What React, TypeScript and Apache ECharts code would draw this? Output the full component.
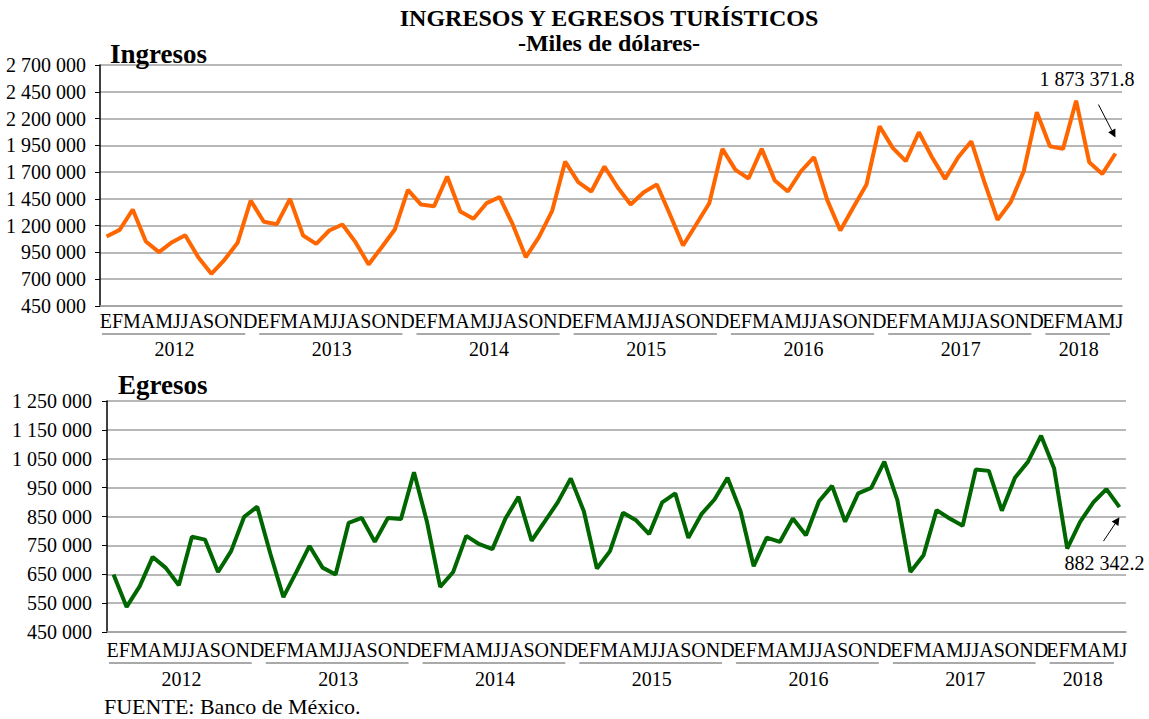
import React, { useEffect, useRef } from "react";
import * as echarts from "echarts";

const MONTH_LETTERS = ["E", "F", "M", "A", "M", "J", "J", "A", "S", "O", "N", "D"];
const YEARS = ["2012", "2013", "2014", "2015", "2016", "2017", "2018"];
const MONTHS_IN_LAST_YEAR = 6;

const CATEGORIES: string[] = [];
YEARS.forEach((y, yi) => {
  const n = yi === YEARS.length - 1 ? MONTHS_IN_LAST_YEAR : 12;
  for (let m = 0; m < n; m++) CATEGORIES.push(y + "-" + MONTH_LETTERS[m]);
});

const INGRESOS = [
  1099000, 1161000, 1351000, 1052000, 953000, 1046000, 1111000, 906000, 751000, 881000, 1040000, 1435000,
  1236000, 1214000, 1450000, 1108000, 1030000, 1155000, 1211000, 1046000, 838000, 999000, 1164000, 1534000,
  1397000, 1382000, 1659000, 1332000, 1264000, 1410000, 1466000, 1211000, 906000, 1093000, 1335000, 1798000,
  1606000, 1519000, 1752000, 1559000, 1397000, 1512000, 1584000, 1304000, 1015000, 1211000, 1410000, 1917000,
  1721000, 1640000, 1917000, 1621000, 1519000, 1708000, 1839000, 1441000, 1155000, 1372000, 1584000, 2128000,
  1926000, 1802000, 2072000, 1839000, 1637000, 1839000, 1988000, 1606000, 1254000, 1419000, 1708000, 2259000,
  1941000, 1917000, 2367000, 1792000, 1683000, 1873371.8,
];

const EGRESOS = [
  649000, 537000, 608000, 710000, 672000, 612000, 780000, 770000, 658000, 730000, 849000, 884000,
  722000, 571000, 658000, 748000, 673000, 649000, 828000, 845000, 762000, 845000, 841000, 1003000,
  830000, 606000, 658000, 783000, 754000, 737000, 843000, 918000, 766000, 832000, 899000, 982000,
  868000, 670000, 730000, 863000, 837000, 789000, 899000, 930000, 776000, 858000, 909000, 984000,
  868000, 678000, 777000, 762000, 843000, 785000, 903000, 956000, 832000, 930000, 949000, 1040000,
  907000, 658000, 716000, 872000, 843000, 818000, 1013000, 1008000, 870000, 984000, 1040000, 1130000,
  1016000, 739000, 832000, 899000, 945000, 882342.2,
];

const ING_AXIS = { min: 450000, max: 2700000, interval: 250000 };
const EGR_AXIS = { min: 450000, max: 1250000, interval: 100000 };

const MAIN_TITLE = "INGRESOS Y EGRESOS TURÍSTICOS";
const SUB_TITLE = "-Miles de dólares-";
const LAST_ING_LABEL = "1 873 371.8";
const LAST_EGR_LABEL = "882 342.2";

const FONT = "Liberation Serif";
const GRID_COLOR = "#a0a0a0";

function fmt(n: number): string {
  return String(Math.round(n)).replace(/\B(?=(\d{3})+(?!\d))/g, " ");
}

export default function App() {
  const ref = useRef<HTMLDivElement>(null);

  useEffect(() => {
    if (!ref.current) return;
    const chart = echarts.init(ref.current, undefined, { renderer: "svg" });

    const xAxisBase = (gridIndex: number) => ({
      type: "category" as const,
      gridIndex,
      data: CATEGORIES,
      boundaryGap: true,
      axisLine: { show: true, lineStyle: { color: GRID_COLOR, width: 1.5 } },
      axisTick: { show: false },
      axisLabel: { show: false },
      splitLine: { show: false },
    });

    const yAxisBase = (gridIndex: number, ax: { min: number; max: number; interval: number }, margin: number) => ({
      type: "value" as const,
      gridIndex,
      min: ax.min,
      max: ax.max,
      interval: ax.interval,
      axisLine: { show: true, lineStyle: { color: "#000", width: 1.5 } },
      axisTick: { show: true, length: 5, lineStyle: { color: "#000", width: 1 } },
      axisLabel: {
        margin,
        fontFamily: FONT,
        fontSize: 20,
        color: "#000",
        formatter: (v: number) => fmt(v),
      },
      splitLine: { show: true, lineStyle: { color: GRID_COLOR, width: 1.5 } },
    });

    const titleStyle = (size: number, bold: boolean, lineHeight?: number) => ({
      fontFamily: FONT,
      fontSize: size,
      fontWeight: bold ? "bold" : "normal",
      color: "#000",
      lineHeight: lineHeight ?? size,
    });

    chart.setOption({
      animation: false,
      backgroundColor: "#fff",
      title: [
        {
          text: MAIN_TITLE + "\n" + SUB_TITLE,
          left: 609,
          textAlign: "center",
          top: 5,
          padding: 0,
          textStyle: { ...titleStyle(24, true, 25), align: "center" },
        },
        { text: "Ingresos", left: 110, top: 40, padding: 0, textStyle: titleStyle(27, true) },
        { text: "Egresos", left: 118, top: 371, padding: 0, textStyle: titleStyle(27, true) },
        { text: "FUENTE: Banco de México.", left: 104, top: 695, padding: 0, textStyle: titleStyle(22, false) },
      ],
      grid: [
        { left: 100, right: 27, top: 65, height: 241, containLabel: false },
        { left: 107, right: 23, top: 401, height: 231, containLabel: false },
      ],
      xAxis: [xAxisBase(0), xAxisBase(1)],
      yAxis: [yAxisBase(0, ING_AXIS, 14), yAxisBase(1, EGR_AXIS, 15)],
      series: [
        {
          type: "line",
          name: "Ingresos",
          xAxisIndex: 0,
          yAxisIndex: 0,
          data: INGRESOS,
          showSymbol: false,
          symbol: "none",
          lineStyle: { color: "#ff6600", width: 4 },
          itemStyle: { color: "#ff6600" },
        },
        {
          type: "line",
          name: "Egresos",
          xAxisIndex: 1,
          yAxisIndex: 1,
          data: EGRESOS,
          showSymbol: false,
          symbol: "none",
          lineStyle: { color: "#006600", width: 4 },
          itemStyle: { color: "#006600" },
        },
      ],
    });

    const graphics: any[] = [];
    const textFont = "20px " + FONT;

    // Month letters, underline and year label per year, positioned by the axes
    const addYears = (gridIdx: number, ax: { min: number }, monthOff: number, lineOff: number, textOff: number) => {
      let start = 0;
      const bottom = chart.convertToPixel({ yAxisIndex: gridIdx }, ax.min) as number;
      const p0 = chart.convertToPixel({ xAxisIndex: gridIdx }, 0) as number;
      const p1 = chart.convertToPixel({ xAxisIndex: gridIdx }, 1) as number;
      const band = p1 - p0;
      YEARS.forEach((y, yi) => {
        const n = yi === YEARS.length - 1 ? MONTHS_IN_LAST_YEAR : 12;
        const end = start + n - 1;
        const xs = (chart.convertToPixel({ xAxisIndex: gridIdx }, start) as number) - band / 2;
        const xe = (chart.convertToPixel({ xAxisIndex: gridIdx }, end) as number) + band / 2;
        const cx = (xs + xe) / 2;
        graphics.push({
          type: "text",
          x: cx,
          y: bottom + monthOff,
          style: {
            text: MONTH_LETTERS.slice(0, n).join(""),
            font: textFont,
            fill: "#000",
            textAlign: "center",
            textVerticalAlign: "middle",
          },
          silent: true,
        });
        graphics.push({
          type: "line",
          shape: { x1: xs + 2, y1: bottom + lineOff, x2: xe - 12, y2: bottom + lineOff },
          style: { stroke: "#555", lineWidth: 1.2 },
          silent: true,
        });
        graphics.push({
          type: "text",
          x: cx - 4,
          y: bottom + textOff,
          style: {
            text: y,
            font: textFont,
            fill: "#000",
            textAlign: "center",
            textVerticalAlign: "middle",
          },
          silent: true,
        });
        start = end + 1;
      });
    };
    addYears(0, ING_AXIS, 15, 28, 43);
    addYears(1, EGR_AXIS, 18, 31, 47);

    // Last-value annotations
    const lastI = INGRESOS.length - 1;
    const pI = chart.convertToPixel({ seriesIndex: 0 }, [lastI, INGRESOS[lastI]]) as number[];
    const pE = chart.convertToPixel({ seriesIndex: 1 }, [lastI, EGRESOS[lastI]]) as number[];

    const arrow = (x1: number, y1: number, x2: number, y2: number) => {
      const ang = Math.atan2(y2 - y1, x2 - x1);
      const L = 8, W = 4;
      const bx = x2 - L * Math.cos(ang), by = y2 - L * Math.sin(ang);
      const nx = -Math.sin(ang), ny = Math.cos(ang);
      graphics.push({
        type: "line",
        shape: { x1, y1, x2: bx, y2: by },
        style: { stroke: "#000", lineWidth: 1 },
        silent: true,
      });
      graphics.push({
        type: "polygon",
        shape: { points: [[x2, y2], [bx + nx * W, by + ny * W], [bx - nx * W, by - ny * W]] },
        style: { fill: "#000" },
        silent: true,
      });
    };

    graphics.push({
      type: "text",
      x: pI[0] + 19,
      y: pI[1] - 75,
      style: { text: LAST_ING_LABEL, font: textFont, fill: "#000", textAlign: "right", textVerticalAlign: "middle" },
      silent: true,
    });
    arrow(pI[0] - 17, pI[1] - 49, pI[0], pI[1] - 16);

    graphics.push({
      type: "text",
      x: pE[0] + 25,
      y: pE[1] + 56,
      style: { text: LAST_EGR_LABEL, font: textFont, fill: "#000", textAlign: "right", textVerticalAlign: "middle" },
      silent: true,
    });
    arrow(pE[0] - 16, pE[1] + 34, pE[0], pE[1] + 10);

    chart.setOption({ graphic: graphics });

    return () => chart.dispose();
  }, []);

  return (
    <div
      ref={ref}
      style={{ position: "fixed", left: 0, top: 0, width: 1149, height: 719, background: "#fff" }}
    />
  );
}
